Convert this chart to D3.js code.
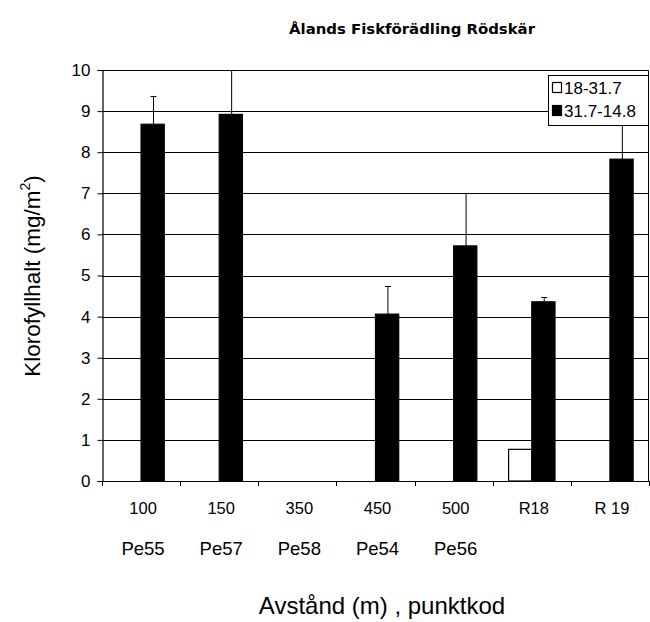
<!DOCTYPE html>
<html>
<head>
<meta charset="utf-8">
<script src="https://cdn.jsdelivr.net/npm/d3@7"></script>
<style>
  html, body { margin: 0; padding: 0; background: #fff; }
  svg { display: block; font-family: "Liberation Sans", Arial, Helvetica, sans-serif; }
</style>
</head>
<body>
<svg id="chart" width="650" height="622"></svg>
<script>
// Distance labels and station codes along the x axis
const categories = ["100", "150", "350", "450", "500", "R18", "R 19"];
const codes = ["Pe55", "Pe57", "Pe58", "Pe54", "Pe56", "", ""];

// Two sampling periods
const seriesNames = ["18-31.7", "31.7-14.8"];
const period1 = [null, null, null, null, null, 0.77, null];
const period2 = [8.68, 8.92, null, 4.06, 5.72, 4.36, 7.83];
// Upper end of the error bars for the second period
const period2Upper = [9.37, 10.0, null, 4.74, 7.0, 4.47, 8.9];

const yTicks = [0, 1, 2, 3, 4, 5, 6, 7, 8, 9, 10];

const svg = d3.select("#chart");
const m = { left: 102, right: 649, top: 70, bottom: 481 };

const x0 = d3.scaleBand().domain(categories).range([m.left, m.right]).padding(0);
const groupW = x0.bandwidth() * 0.594;
const x1 = d3.scaleBand().domain(seriesNames)
  .range([(x0.bandwidth() - groupW) / 2, (x0.bandwidth() + groupW) / 2]).padding(0);
const y = d3.scaleLinear().domain([0, 10]).range([m.bottom, m.top]);

const fills = { "18-31.7": "#fff", "31.7-14.8": "#000" };

// Horizontal gridlines
svg.append("g").selectAll("line").data(yTicks.filter(t => t > 0 && t < 10)).join("line")
  .attr("x1", m.left).attr("x2", m.right)
  .attr("y1", d => Math.round(y(d)) + 0.5).attr("y2", d => Math.round(y(d)) + 0.5)
  .attr("stroke", "#000").attr("stroke-width", 1);

// Bars
const rows = categories.map((c, i) => ({
  cat: c,
  vals: [
    { s: seriesNames[0], v: period1[i], up: null },
    { s: seriesNames[1], v: period2[i], up: period2Upper[i] }
  ].filter(d => d.v != null)
}));

const groups = svg.append("g").selectAll("g").data(rows).join("g")
  .attr("transform", d => `translate(${x0(d.cat)},0)`);

// Error bars (upper only, drawn beneath the bars)
groups.selectAll("g.err").data(d => d.vals.filter(v => v.up != null)).join("g")
  .attr("class", "err")
  .each(function (d) {
    const g = d3.select(this);
    const cx = Math.round(x1(d.s) + x1.bandwidth() / 2) + 0.5;
    g.append("line").attr("x1", cx).attr("x2", cx)
      .attr("y1", y(d.v)).attr("y2", y(d.up))
      .attr("stroke", "#000").attr("stroke-width", 1);
    g.append("line").attr("x1", cx - 3).attr("x2", cx + 3)
      .attr("y1", Math.round(y(d.up)) + 0.5).attr("y2", Math.round(y(d.up)) + 0.5)
      .attr("stroke", "#000").attr("stroke-width", 1);
  });

groups.selectAll("rect").data(d => d.vals).join("rect")
  .attr("x", d => x1(d.s))
  .attr("y", d => y(d.v))
  .attr("width", x1.bandwidth())
  .attr("height", d => y(0) - y(d.v))
  .attr("fill", d => fills[d.s])
  .attr("stroke", "#000").attr("stroke-width", 1.2);

// Plot frame: top and right edges
svg.append("path")
  .attr("d", `M${m.left},${m.top + 0.5}H${m.right - 0.5}V${m.bottom}`)
  .attr("fill", "none").attr("stroke", "#000").attr("stroke-width", 1);

// Y axis
const yAxis = d3.axisLeft(y).tickValues(yTicks).tickSize(5).tickPadding(7)
  .tickFormat(d3.format("d"));
svg.append("g").attr("transform", `translate(${m.left + 0.5},0)`).call(yAxis)
  .call(g => g.select(".domain").attr("stroke", "#000").attr("stroke-width", 1.2))
  .call(g => g.selectAll(".tick line").attr("stroke", "#000"))
  .call(g => g.selectAll(".tick text").attr("font-size", 17).attr("fill", "#000")
    .attr("font-family", "'Liberation Sans', Arial, sans-serif"));

// X axis: baseline with ticks at category boundaries
svg.append("line").attr("x1", m.left).attr("x2", m.right)
  .attr("y1", m.bottom + 0.5).attr("y2", m.bottom + 0.5)
  .attr("stroke", "#000").attr("stroke-width", 1.2);
const bounds = categories.map(c => x0(c)).concat([m.right]);
svg.append("g").selectAll("line").data(bounds).join("line")
  .attr("x1", d => Math.round(d) + 0.5).attr("x2", d => Math.round(d) + 0.5)
  .attr("y1", m.bottom).attr("y2", m.bottom + 5)
  .attr("stroke", "#000");

// Category labels, two rows
svg.append("g").selectAll("text").data(categories).join("text")
  .attr("x", d => x0(d) + x0.bandwidth() / 2 + 2)
  .attr("y", 514)
  .attr("text-anchor", "middle").attr("font-size", 16.5).text(d => d);
svg.append("g").selectAll("text").data(categories).join("text")
  .attr("x", d => x0(d) + x0.bandwidth() / 2 + 2)
  .attr("y", 555)
  .attr("text-anchor", "middle").attr("font-size", 18.5)
  .text((d, i) => codes[i]);

// Axis titles
svg.append("text").attr("x", 382).attr("y", 614).attr("text-anchor", "middle")
  .attr("font-size", 24).text("Avstånd (m) , punktkod");

const yl = svg.append("text")
  .attr("transform", "translate(40,276) rotate(-90)")
  .attr("text-anchor", "middle").attr("font-size", 22.5);
yl.append("tspan").text("Klorofyllhalt (mg/m");
yl.append("tspan").attr("font-size", 14).attr("dy", -10).text("2");
yl.append("tspan").attr("dy", 10).text(")");

// Chart title
svg.append("text").attr("x", 412).attr("y", 34).attr("text-anchor", "middle")
  .attr("font-family", "'DejaVu Sans', sans-serif")
  .attr("font-size", 14.5).attr("font-weight", "bold")
  .attr("textLength", 246).attr("lengthAdjust", "spacingAndGlyphs")
  .text("Ålands Fiskförädling Rödskär");

// Legend
const lg = svg.append("g");
lg.append("rect").attr("x", 548.5).attr("y", 75.5).attr("width", 100).attr("height", 50)
  .attr("fill", "#fff").attr("stroke", "#000").attr("stroke-width", 1);
seriesNames.forEach((s, i) => {
  const cy = 88 + i * 23;
  lg.append("rect").attr("x", 552.5).attr("y", cy - 5.5).attr("width", 9).attr("height", 10)
    .attr("fill", fills[s]).attr("stroke", "#000").attr("stroke-width", 1.2);
  lg.append("text").attr("x", 564).attr("y", cy + 6).attr("font-size", 17).text(s);
});
</script>
</body>
</html>
